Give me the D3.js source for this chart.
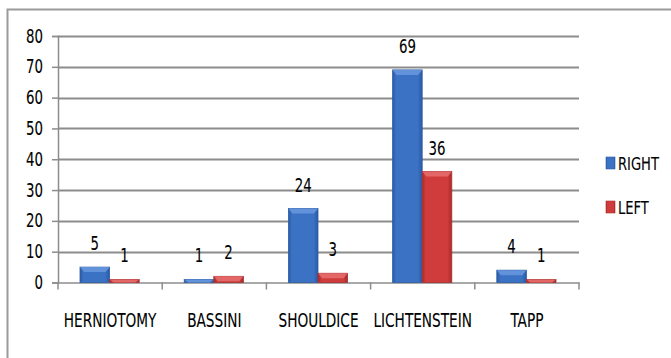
<!DOCTYPE html>
<html>
<head>
<meta charset="utf-8">
<script src="https://cdn.jsdelivr.net/npm/d3@7"></script>
<style>
  body { margin: 0; background: #fff; }
  svg text { font-family: "DejaVu Sans Condensed", "DejaVu Sans", sans-serif; font-stretch: condensed; fill: #000; stroke: #000; stroke-width: 0.1px; }
</style>
</head>
<body>
<svg id="chart" width="671" height="358"></svg>
<script>
// Dados
const categories = ["HERNIOTOMY", "BASSINI", "SHOULDICE", "LICHTENSTEIN", "TAPP"];
const rightValues = [5, 1, 24, 69, 4];
const leftValues = [1, 2, 3, 36, 1];
const seriesNames = ["RIGHT", "LEFT"];
const yTicks = [0, 10, 20, 30, 40, 50, 60, 70, 80];

const FONT = "DejaVu Sans Condensed, DejaVu Sans, sans-serif";
const svg = d3.select("#chart");
const margin = { left: 58, right: 92, top: 36, bottom: 75 };
const width = 671 - margin.left - margin.right;
const height = 358 - margin.top - margin.bottom - 0.5;

// Estreita o texto horizontalmente mantendo a posição da âncora
function condense(sel, sx) {
    sel.each(function() {
        const t = d3.select(this);
        const x = +(t.attr("x") || 0);
        t.attr("x", x / sx).attr("transform", `scale(${sx},1)`);
    });
}

// Moldura
svg.append("rect")
    .attr("x", 7.5).attr("y", 9.5)
    .attr("width", 700).attr("height", 400)
    .attr("fill", "#fff")
    .attr("stroke", "#9a9a9a")
    .attr("stroke-width", 2);

const defs = svg.append("defs");
function barGradient(id, dark, mid) {
    const g = defs.append("linearGradient").attr("id", id)
        .attr("x1", "0%").attr("y1", "0%").attr("x2", "100%").attr("y2", "0%");
    g.append("stop").attr("offset", "0%").attr("stop-color", dark);
    g.append("stop").attr("offset", "12%").attr("stop-color", mid);
    g.append("stop").attr("offset", "85%").attr("stop-color", mid);
    g.append("stop").attr("offset", "100%").attr("stop-color", dark);
}
barGradient("grad-right", "#2a5aa3", "#3b72c4");
barGradient("grad-left", "#a52a2b", "#d03c3c");

const g = svg.append("g").attr("transform", `translate(${margin.left},${margin.top})`);

const x0 = d3.scaleBand().domain(categories).range([0, width]).paddingInner(0).paddingOuter(0);
const x1 = d3.scaleBand().domain(seriesNames).range([22, x0.bandwidth() - 23]);
const y = d3.scaleLinear().domain([0, 80]).range([height, 0]);

// Grade
g.append("g").selectAll("line")
    .data(yTicks.filter(d => d > 0))
    .join("line")
    .attr("x1", 0).attr("x2", width)
    .attr("y1", d => Math.round(y(d)) + 0.5).attr("y2", d => Math.round(y(d)) + 0.5)
    .attr("stroke", "#8c8c8c").attr("stroke-width", 2);

// Eixo Y
const yAxis = g.append("g")
    .call(d3.axisLeft(y).tickValues(yTicks).tickSize(6).tickPadding(9));
yAxis.select(".domain").attr("stroke", "#8c8c8c").attr("stroke-width", 1.5);
yAxis.selectAll(".tick line").attr("stroke", "#8c8c8c").attr("stroke-width", 1.5);
yAxis.selectAll("text").style("font-size", "19px").style("font-family", FONT).call(condense, 0.78);

// Eixo X
const xAxis = g.append("g")
    .attr("transform", `translate(0,${height})`)
    .call(d3.axisBottom(x0).tickSize(0).tickPadding(31));
xAxis.select(".domain").attr("stroke", "#8c8c8c").attr("stroke-width", 1.5);
xAxis.selectAll("text").style("font-size", "19px").style("font-family", FONT).call(condense, 0.8);
g.append("g").selectAll("line")
    .data(d3.range(categories.length + 1))
    .join("line")
    .attr("x1", i => i * x0.bandwidth()).attr("x2", i => i * x0.bandwidth())
    .attr("y1", height).attr("y2", height + 7)
    .attr("stroke", "#8c8c8c").attr("stroke-width", 1.5);

// Barras
const rows = categories.map((c, i) => ({ cat: c, vals: [
    { key: "RIGHT", value: rightValues[i] },
    { key: "LEFT", value: leftValues[i] }
]}));

const groups = g.append("g").selectAll("g")
    .data(rows)
    .join("g")
    .attr("transform", d => `translate(${x0(d.cat)},0)`);

groups.selectAll("rect.bar")
    .data(d => d.vals)
    .join("rect")
    .attr("class", "bar")
    .attr("x", d => x1(d.key))
    .attr("y", d => y(d.value))
    .attr("width", x1.bandwidth())
    .attr("height", d => height - y(d.value))
    .attr("fill", d => d.key === "RIGHT" ? "url(#grad-right)" : "url(#grad-left)")
    .attr("stroke", d => d.key === "RIGHT" ? "#2d5ea8" : "#a8302f")
    .attr("stroke-width", 0.8);

// Bisel superior
groups.selectAll("path.bevel")
    .data(d => d.vals)
    .join("path")
    .attr("class", "bevel")
    .attr("d", d => {
        const bx = x1(d.key), bw = x1.bandwidth(), by = y(d.value);
        const bh = Math.min(5, height - by);
        const inset = Math.min(4, bw / 4);
        return `M${bx},${by}L${bx + bw},${by}L${bx + bw - inset},${by + bh}L${bx + inset},${by + bh}Z`;
    })
    .attr("fill", d => d.key === "RIGHT" ? "#6d9be0" : "#e77272")
    .attr("opacity", 0.8);

// Rótulos de valor
groups.selectAll("g.val")
    .data(d => d.vals)
    .join("g")
    .attr("class", "val")
    .attr("transform", d => `translate(${x1(d.key) + x1.bandwidth() / 2},${y(d.value) - 17})`)
    .append("text")
    .attr("text-anchor", "middle")
    .attr("transform", "scale(0.78,1)")
    .style("font-size", "19px")
    .text(d => d.value);

// Legenda
const legend = svg.append("g");
const legendY = [157, 201];
seriesNames.forEach((name, i) => {
    legend.append("rect")
        .attr("x", 606).attr("y", legendY[i])
        .attr("width", 9).attr("height", 12)
        .attr("fill", i === 0 ? "url(#grad-right)" : "url(#grad-left)")
        .attr("stroke", i === 0 ? "#2d5ea8" : "#a8302f").attr("stroke-width", 0.6);
    legend.append("text")
        .attr("x", 618).attr("y", legendY[i] + 13)
        .style("font-size", "18px")
        .text(name)
        .call(condense, 0.81);
});
</script>
</body>
</html>
